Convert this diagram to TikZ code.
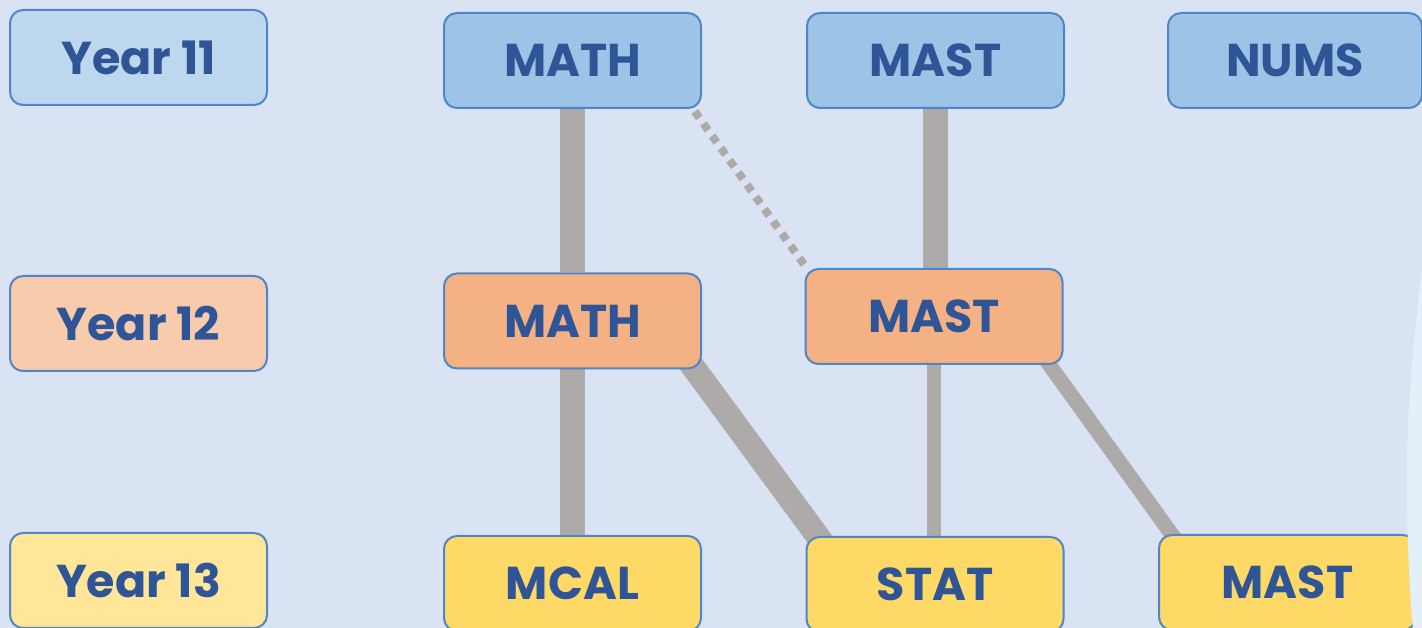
\documentclass[tikz,border=0pt]{standalone}
\usepackage{fontspec}
\setmainfont{Poppins}
\definecolor{bgc}{HTML}{DAE3F3}
\definecolor{txt}{HTML}{2F5597}
\definecolor{edge}{HTML}{4F86C6}
\definecolor{yA}{HTML}{BDD7EE}
\definecolor{yB}{HTML}{F8CBAD}
\definecolor{yC}{HTML}{FFE699}
\definecolor{rA}{HTML}{9DC3E6}
\definecolor{rB}{HTML}{F4B183}
\definecolor{rC}{HTML}{FFD966}
\definecolor{conn}{HTML}{AEAAAA}
\definecolor{edgeglow}{HTML}{E3F0FA}
\pgfdeclarelayer{back}
\pgfdeclarelayer{lines}
\pgfsetlayers{back,lines,main}
\tikzset{
  box/.style={draw=edge, line width=2pt, rounded corners=13pt, minimum width=257pt, minimum height=95pt, inner sep=0pt, text=txt, font=\fontsize{46}{50}\selectfont\bfseries},
  yearA/.style={box, fill=yA}, yearB/.style={box, fill=yB}, yearC/.style={box, fill=yC},
  rowA/.style={box, fill=rA}, rowB/.style={box, fill=rB}, rowC/.style={box, fill=rC},
  thick link/.style={draw=conn, line width=25pt},
  mid link/.style={draw=conn, line width=24pt},
  thin link/.style={draw=conn, line width=14pt},
  slim link/.style={draw=conn, line width=15pt},
  dot link/.style={draw=conn, line width=8pt, dash pattern=on 8pt off 7pt}
}
\begin{document}
\begin{tikzpicture}[x=1pt,y=1pt]
\begin{pgfonlayer}{back}
\fill[bgc] (0,0) rectangle (1422,628);
\end{pgfonlayer}
\useasboundingbox (0,0) rectangle (1422,628);
% year labels
\node[yearA] (y11) at (138.5,570.5) {Year 11};
\node[yearB] (y12) at (138.5,304.5) {Year 12};
\node[yearC] (y13) at (138.5,47.5) {Year 13};
% row 1
\node[rowA] (math11) at (572.5,567.5) {MATH};
\node[rowA] (mast11) at (935.5,567.5) {MAST};
\node[rowA, minimum width=254pt] (nums) at (1295,567.5) {NUMS};
% row 2
\node[rowB] (math12) at (572.5,307) {MATH};
\node[rowB] (mast12) at (934,311.5) {MAST};
% row 3
\node[rowC] (mcal) at (572.5,44.5) {MCAL};
\node[rowC] (stat) at (935,43.5) {STAT};
\node[rowC] (mast13) at (1287.5,45.5) {MAST};
% connectors
\begin{pgfonlayer}{lines}
\draw[thick link] (math11.south) -- (math12.north);
\draw[thick link] (math12.south) -- (mcal.north);
\draw[thick link] (mast11.south) -- (mast11.south |- mast12.north);
\draw[thin link] (mast12.south) -- (mast12.south |- stat.north);
\draw[mid link, shorten <=-30pt, shorten >=-30pt] ([xshift=-7pt]math12.south east) -- ([xshift=12pt]stat.north west);
\draw[slim link, shorten <=-30pt, shorten >=-30pt] ([xshift=-14pt]mast12.south east) -- ([xshift=13.5pt]mast13.north west);
\end{pgfonlayer}
\draw[dot link, shorten <=3pt] ([xshift=-9pt]math11.south east) -- ([xshift=2pt]mast12.north west);
% light strip at right edge
\fill[edgeglow] (1422,360) .. controls (1410,260) and (1407,200) .. (1407,150) .. controls (1407,80) and (1410,30) .. (1413,0) -- (1422,0) -- cycle;
\end{tikzpicture}
\end{document}
